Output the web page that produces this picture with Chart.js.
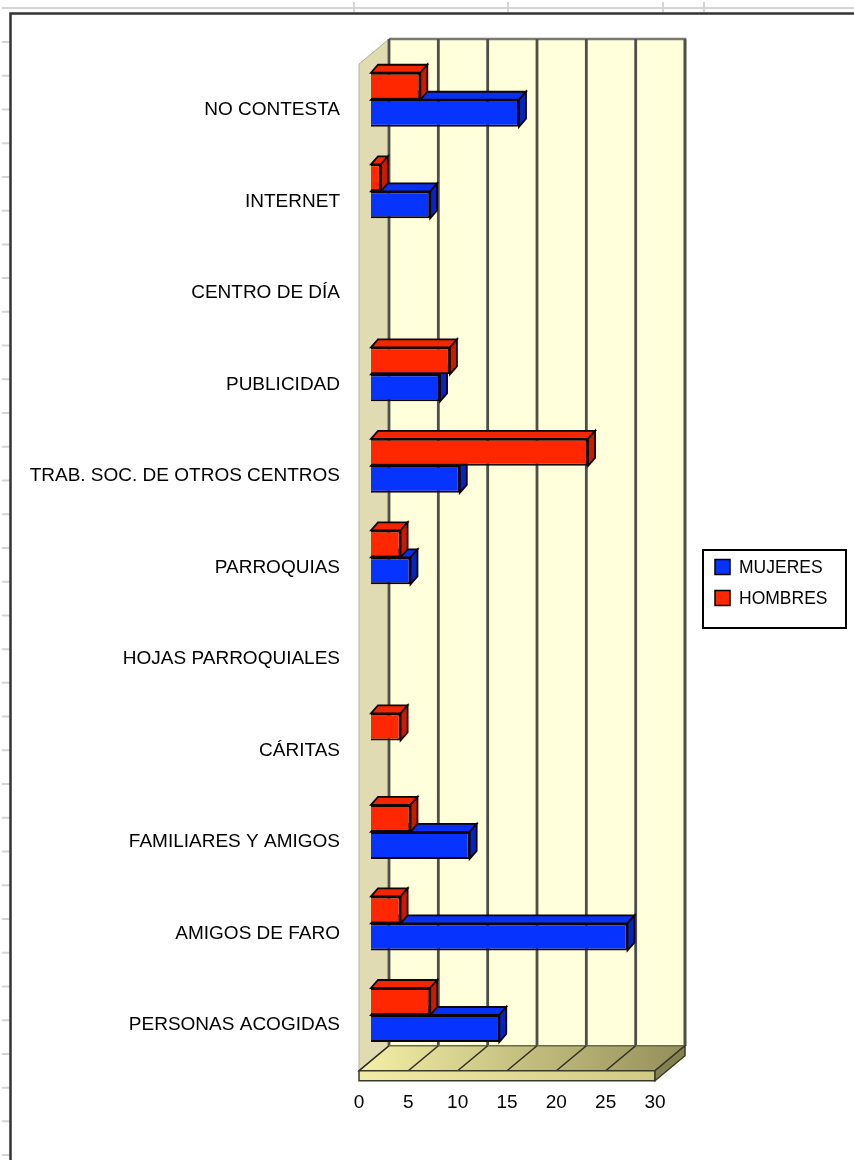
<!DOCTYPE html>
<html>
<head>
<meta charset="utf-8">
<script src="https://cdn.jsdelivr.net/npm/chart.js@4.4.1/dist/chart.umd.min.js"></script>
<style>
    html, body { margin: 0; padding: 0; background: #fff; }
    canvas { display: block; }
</style>
</head>
<body>
<canvas id="myChart" width="854" height="1160"></canvas>
<script>
// data
let categories = ['NO CONTESTA', 'INTERNET', 'CENTRO DE DÍA', 'PUBLICIDAD', 'TRAB. SOC. DE OTROS CENTROS',
    'PARROQUIAS', 'HOJAS PARROQUIALES', 'CÁRITAS', 'FAMILIARES Y AMIGOS', 'AMIGOS DE FARO', 'PERSONAS ACOGIDAS'];
let mujeres = [15, 6, 0, 7, 9, 4, 0, 0, 10, 26, 13];
let hombres = [5, 1, 0, 8, 22, 3, 0, 3, 4, 3, 6];
let xTicks = [0, 5, 10, 15, 20, 25, 30];

let blue = '#0733ff';
let red = '#ff2700';

// 3d look: bars sit between the front plane and the back wall
let wall = { backX: 18, backY: -15, frontX: -12, frontY: 10 };
let bar3d = { dx: 7, dy: 8 };

Chart.defaults.font.family = "'Liberation Sans', Arial, sans-serif";
Chart.defaults.font.size = 19;
Chart.defaults.color = '#000';

let poly = (ctx, pts, fill, stroke, lw) => {
    ctx.beginPath();
    ctx.moveTo(pts[0][0], pts[0][1]);
    for (let i = 1; i < pts.length; i++) ctx.lineTo(pts[i][0], pts[i][1]);
    ctx.closePath();
    if (fill) { ctx.fillStyle = fill; ctx.fill(); }
    if (stroke) { ctx.strokeStyle = stroke; ctx.lineWidth = lw || 1; ctx.stroke(); }
}

let excel3d = {
    id: 'excel3d',
    beforeDraw(chart) {
        let ctx = chart.ctx;
        ctx.save();
        ctx.fillStyle = '#fff';
        ctx.fillRect(0, 0, chart.width, chart.height);
        // spreadsheet cell lines around the chart object
        ctx.strokeStyle = '#d4d4d4';
        ctx.lineWidth = 2;
        ctx.beginPath();
        ctx.moveTo(2, 8); ctx.lineTo(chart.width, 8);
        [354, 508, 663, 704].forEach(c => { ctx.moveTo(c, 2); ctx.lineTo(c, 12); });
        for (let r = 42; r < chart.height; r += 33.73) { ctx.moveTo(2, r); ctx.lineTo(10, r); }
        ctx.stroke();
        ctx.strokeStyle = '#333';
        ctx.lineWidth = 2.5;
        ctx.beginPath();
        ctx.moveTo(chart.width, 13.5); ctx.lineTo(10.5, 13.5); ctx.lineTo(10.5, chart.height);
        ctx.stroke();
        ctx.restore();
    },
    beforeDatasetsDraw(chart) {
        let { ctx, chartArea: a, scales: { x } } = chart;
        let x0 = x.getPixelForValue(xTicks[0]);
        let x1 = x.getPixelForValue(xTicks[xTicks.length - 1]);
        let bL = x0 + wall.backX, bR = x1 + wall.backX, bT = a.top + wall.backY, bB = a.bottom + wall.backY;
        let fL = x0 + wall.frontX, fR = x1 + wall.frontX, fT = a.top + wall.frontY, fB = a.bottom + wall.frontY;
        ctx.save();
        // side wall and back wall
        poly(ctx, [[fL, fT], [bL, bT], [bL, bB], [fL, fB]], '#e0dbb2', '#b8b490', 1);
        poly(ctx, [[bL, bT], [bR, bT], [bR, bB], [bL, bB]], '#ffffdb');
        ctx.strokeStyle = '#7a7a72';
        ctx.lineWidth = 2.5;
        ctx.beginPath();
        ctx.moveTo(bL, bT); ctx.lineTo(bR, bT); ctx.lineTo(bR, bB);
        ctx.stroke();
        ctx.strokeStyle = '#4f4f48';
        ctx.lineWidth = 2.8;
        ctx.beginPath();
        xTicks.forEach(t => {
            let px = x.getPixelForValue(t) + wall.backX;
            ctx.moveTo(px, bT); ctx.lineTo(px, bB);
        });
        ctx.stroke();
        // floor
        let g = ctx.createLinearGradient(fL, 0, bR, 0);
        g.addColorStop(0, '#f4f0a6');
        g.addColorStop(1, '#948f5a');
        poly(ctx, [[fL, fB], [bL, bB], [bR, bB], [fR, fB]], g, '#6b6848', 1.5);
        ctx.strokeStyle = '#2e2c20';
        ctx.lineWidth = 1.5;
        ctx.beginPath();
        xTicks.forEach(t => {
            let px = x.getPixelForValue(t);
            ctx.moveTo(px + wall.backX, bB); ctx.lineTo(px + wall.frontX, fB);
        });
        ctx.stroke();
        let g2 = ctx.createLinearGradient(fL, 0, fR, 0);
        g2.addColorStop(0, '#f0eca6');
        g2.addColorStop(1, '#d0ca86');
        poly(ctx, [[fL, fB], [fR, fB], [fR, fB + 10], [fL, fB + 10]], g2, '#3a3828', 1.5);
        poly(ctx, [[fR, fB], [bR, bB], [bR, bB + 10], [fR, fB + 10]], '#868150', '#3a3828', 1.5);

        // top and side faces of the bars, lower bar first
        for (let i = 0; i < categories.length; i++) {
            [1, 0].forEach(d => {
                let el = chart.getDatasetMeta(d).data[i];
                let p = el.getProps(['x', 'y', 'base', 'height'], true);
                let left = Math.min(p.base, p.x), right = Math.max(p.base, p.x);
                if (right - left < 0.5) return;
                let top = p.y - p.height / 2, bottom = p.y + p.height / 2;
                let ds = chart.data.datasets[d];
                poly(ctx, [[left, top], [left + bar3d.dx, top - bar3d.dy], [right + bar3d.dx, top - bar3d.dy], [right, top]],
                    ds.topColor, '#120400', 1.8);
                poly(ctx, [[right, top], [right + bar3d.dx, top - bar3d.dy], [right + bar3d.dx, bottom - bar3d.dy], [right, bottom]],
                    ds.sideColor, '#120400', 1.8);
            });
        }
        ctx.restore();
    },
    afterDraw(chart) {
        // legend box
        let ctx = chart.ctx;
        ctx.save();
        ctx.strokeStyle = '#000';
        ctx.lineWidth = 2;
        ctx.fillStyle = '#fff';
        ctx.fillRect(703, 550, 143, 78);
        ctx.strokeRect(703, 550, 143, 78);
        ctx.font = "17.5px 'Liberation Sans', Arial, sans-serif";
        ctx.textBaseline = 'middle';
        let items = chart.data.datasets.slice().reverse();
        items.forEach((ds, k) => {
            let cy = 567 + k * 31;
            ctx.fillStyle = ds.backgroundColor;
            ctx.fillRect(715, cy - 7.5, 15, 15);
            ctx.lineWidth = 1.5;
            ctx.strokeStyle = '#000';
            ctx.strokeRect(715, cy - 7.5, 15, 15);
            ctx.fillStyle = '#000';
            ctx.fillText(ds.label, 739, cy + 1);
        });
        ctx.restore();
    }
};

let ctx = document.getElementById('myChart').getContext('2d');

let myChart = new Chart(ctx, {
    type: 'bar',
    data: {
        labels: categories,
        datasets: [{
            label: 'HOMBRES',
            data: hombres,
            backgroundColor: red,
            topColor: '#f22600',
            sideColor: '#c81c00',
            borderColor: '#120400',
            borderWidth: 2
        }, {
            label: 'MUJERES',
            data: mujeres,
            backgroundColor: blue,
            topColor: '#0630f4',
            sideColor: '#0624c0',
            borderColor: '#120400',
            borderWidth: 2
        }]
    },
    options: {
        indexAxis: 'y',
        responsive: false,
        animation: false,
        barPercentage: 1,
        categoryPercentage: 0.59,
        layout: {
            padding: { left: 10, right: 187, top: 54, bottom: 0 }
        },
        plugins: {
            legend: { display: false },
            tooltip: { enabled: false }
        },
        scales: {
            x: {
                min: xTicks[0],
                max: xTicks[xTicks.length - 1],
                ticks: { stepSize: xTicks[1] - xTicks[0], padding: 31, labelOffset: wall.frontX },
                grid: { display: false, drawTicks: false },
                border: { display: false },
                afterFit: (s) => { s.height = 99.25; }
            },
            y: {
                ticks: { padding: 31, labelOffset: wall.frontY },
                grid: { display: false, drawTicks: false },
                border: { display: false },
                afterFit: (s) => { s.width = 361; }
            }
        }
    },
    plugins: [excel3d]
});
</script>
</body>
</html>
